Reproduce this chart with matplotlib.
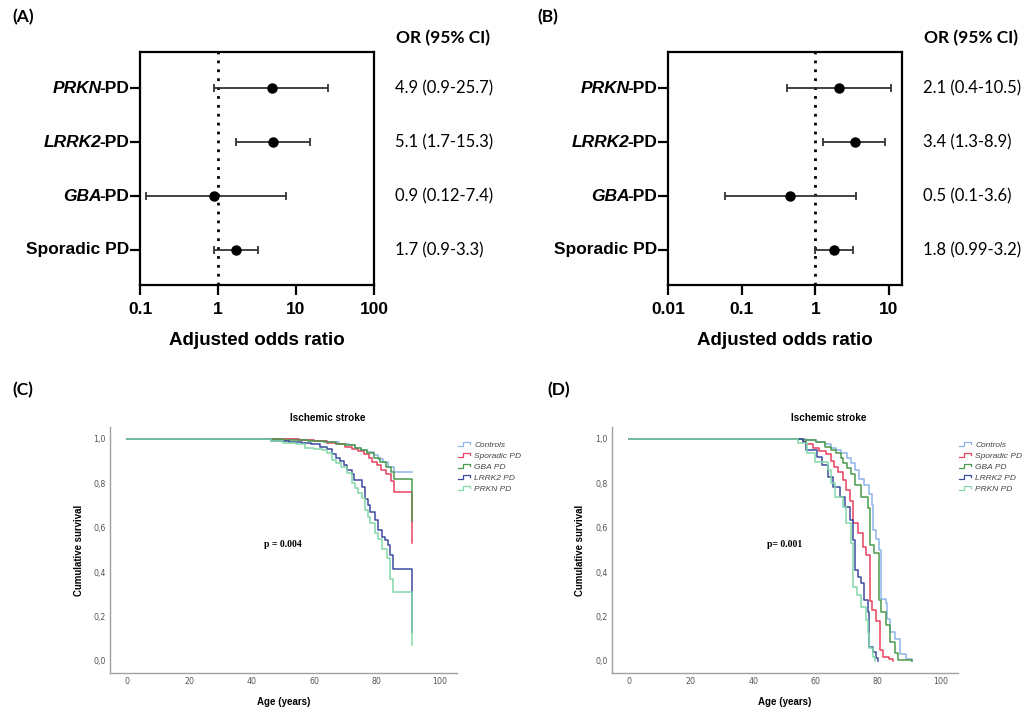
import numpy as np
import matplotlib
matplotlib.use("Agg")
import matplotlib.pyplot as plt
from matplotlib.lines import Line2D
from matplotlib.legend_handler import HandlerBase


# ---------------- forest plot data ----------------
genes = ["PRKN", "LRRK2", "GBA", None]
row_names = ["-PD", "-PD", "-PD", "Sporadic PD"]

or_a = [4.9, 5.1, 0.9, 1.7]
lo_a = [0.9, 1.7, 0.12, 0.9]
hi_a = [25.7, 15.3, 7.4, 3.3]
txt_a = ["4.9 (0.9-25.7)", "5.1 (1.7-15.3)", "0.9 (0.12-7.4)", "1.7 (0.9-3.3)"]

or_b = [2.1, 3.4, 0.45, 1.8]
lo_b = [0.41, 1.25, 0.06, 0.99]
hi_b = [10.5, 8.9, 3.6, 3.2]
txt_b = ["2.1 (0.4-10.5)", "3.4 (1.3-8.9)", "0.5 (0.1-3.6)", "1.8 (0.99-3.2)"]

xticks_a = [0.1, 1, 10, 100]
xticks_b = [0.01, 0.1, 1, 10]

# ---------------- survival data (age of event, survival after event) ----------------
groups = ["Controls", "Sporadic PD", "GBA PD", "LRRK2 PD", "PRKN PD"]
colors = ["#8db4e8", "#e8435f", "#4a9a4a", "#3d4b9c", "#82d9aa"]

c_ctrl_age = [45, 55, 60, 64, 68, 71, 73, 75, 77, 79, 80.5, 82, 83.5, 85.5, 91.2]
c_ctrl_surv = [0.998, 0.995, 0.99, 0.985, 0.978, 0.97, 0.96, 0.95, 0.94, 0.925, 0.91, 0.895, 0.875, 0.85, 0.85]
c_spor_age = [48, 55, 60, 64, 67, 70, 72, 74, 76, 77.5, 78.5, 80, 81.5, 83, 84.5, 85.5, 91.2]
c_spor_surv = [0.998, 0.993, 0.988, 0.982, 0.975, 0.965, 0.955, 0.945, 0.93, 0.915, 0.895, 0.88, 0.86, 0.84, 0.81, 0.76, 0.53]
c_gba_age = [33, 50, 58, 63, 67, 70, 73, 75, 77, 79, 81, 83, 84.5, 85.5, 91.2]
c_gba_surv = [0.997, 0.993, 0.99, 0.985, 0.978, 0.97, 0.96, 0.948, 0.935, 0.915, 0.895, 0.875, 0.85, 0.82, 0.63]
c_lrrk_age = [46, 52, 56, 59, 62, 64, 65.6, 67, 68.2, 69.5, 70.5, 72, 72.8, 75.2, 76.3, 77.3, 78, 79.5,
              80.5, 81.6, 82.5, 83.5, 84.3, 85.3, 91.2]
c_lrrk_surv = [0.99, 0.985, 0.98, 0.975, 0.965, 0.955, 0.93, 0.915, 0.9, 0.88, 0.86, 0.84, 0.815, 0.785,
               0.73, 0.7, 0.67, 0.635, 0.59, 0.56, 0.545, 0.52, 0.475, 0.415, 0.13]
c_prkn_age = [46, 50, 54, 57, 60, 62.4, 64, 65.6, 67, 68.7, 70.5, 72, 73, 74.1, 75.2, 76.3, 77.3, 78, 79.5,
              80.5, 81.6, 83.2, 84.3, 85.3, 91.2]
c_prkn_surv = [0.99, 0.982, 0.975, 0.96, 0.955, 0.948, 0.935, 0.905, 0.89, 0.875, 0.845, 0.8, 0.78, 0.755,
               0.735, 0.68, 0.65, 0.62, 0.575, 0.55, 0.505, 0.465, 0.37, 0.31, 0.07]

d_ctrl_age = [50, 57, 60, 63, 65, 66.5, 68, 70, 71.5, 72.5, 74, 75.5, 77, 78, 78.5, 79.5, 80.5, 81, 82.5,
              83, 84, 85.5, 87, 89, 91]
d_ctrl_surv = [0.998, 0.995, 0.985, 0.975, 0.96, 0.95, 0.935, 0.915, 0.89, 0.86, 0.82, 0.79, 0.75, 0.70,
               0.59, 0.55, 0.50, 0.28, 0.26, 0.19, 0.13, 0.10, 0.03, 0.01, 0.0]
d_spor_age = [56, 57, 59.2, 61, 63.5, 65.1, 66, 67.2, 68.8, 69.8, 70.9, 72, 73.6, 75.2, 76.3, 77.4, 78.2,
              79.3, 80.6, 81.6, 83.6, 85]
d_spor_surv = [0.985, 0.975, 0.958, 0.945, 0.93, 0.9, 0.875, 0.85, 0.815, 0.77, 0.72, 0.62, 0.575, 0.515,
               0.475, 0.27, 0.23, 0.18, 0.05, 0.02, 0.01, 0.0]
d_gba_age = [50, 56, 60, 63, 65, 66.5, 68, 68.8, 70, 71.5, 72.5, 74.6, 76.8, 77.4, 78.9, 80.3, 81.1, 82.5,
             84, 85.4, 86.5, 91]
d_gba_surv = [0.997, 0.993, 0.985, 0.965, 0.95, 0.935, 0.915, 0.89, 0.87, 0.84, 0.79, 0.74, 0.69, 0.52,
              0.485, 0.275, 0.222, 0.162, 0.087, 0.034, 0.005, 0.0]
d_lrrk_age = [56, 57, 60.3, 62, 64, 65.6, 67.8, 69.4, 70.9, 72, 72.5, 73.6, 74.7, 75.7, 76.8, 77.3, 78.3,
              79.3, 80]
d_lrrk_surv = [0.985, 0.95, 0.92, 0.88, 0.83, 0.785, 0.74, 0.695, 0.635, 0.545, 0.41, 0.38, 0.35, 0.275,
               0.22, 0.065, 0.04, 0.013, 0.0]
d_prkn_age = [54.3, 57.1, 59.7, 64, 65, 66.2, 68.8, 69.9, 71.5, 72.1, 73.3, 74.7, 76.2, 76.8, 77.3, 78.3, 79]
d_prkn_surv = [0.98, 0.935, 0.897, 0.86, 0.8, 0.74, 0.695, 0.62, 0.53, 0.335, 0.297, 0.245, 0.185, 0.125,
               0.057, 0.02, 0.0]

curves_c = [(c_ctrl_age, c_ctrl_surv), (c_spor_age, c_spor_surv), (c_gba_age, c_gba_surv),
            (c_lrrk_age, c_lrrk_surv), (c_prkn_age, c_prkn_surv)]
curves_d = [(d_ctrl_age, d_ctrl_surv), (d_spor_age, d_spor_surv), (d_gba_age, d_gba_surv),
            (d_lrrk_age, d_lrrk_surv), (d_prkn_age, d_prkn_surv)]

SANS = "Liberation Sans"
CAL = "Lato"


class StepHandler(HandlerBase):
    # legend symbol drawn as a small step, as in SPSS
    def create_artists(self, legend, orig_handle, xdescent, ydescent,
                       width, height, fontsize, trans):
        x0, y0 = -xdescent, -ydescent
        xs = [x0, x0 + 0.45 * width, x0 + 0.45 * width, x0 + width, x0 + width]
        ys = [y0 + 0.2 * height, y0 + 0.2 * height, y0 + 0.85 * height,
              y0 + 0.85 * height, y0 + 0.55 * height]
        line = Line2D(xs, ys, color=orig_handle.get_color(), lw=0.9)
        line.set_transform(trans)
        return [line]


def forest(ax, est, lo, hi, labels, xlim, xticks):
    ys = np.arange(len(est), 0, -1)
    est = np.asarray(est)
    err = [est - np.asarray(lo), np.asarray(hi) - est]
    ax.axvline(1, color="black", ls=(0, (1, 2.2)), lw=2, zorder=1)
    ax.errorbar(est, ys, xerr=err, fmt="o", color="black", ecolor="#333333",
                elinewidth=1.3, capsize=3, capthick=1.3, ms=6.5, zorder=3)
    ax.set_xscale("log")
    ax.set_xlim(*xlim)
    ax.set_ylim(0.35, 4.67)
    ax.set_xticks(xticks)
    ax.set_xticklabels([f"{t:g}" for t in xticks], fontfamily=SANS,
                       fontweight="bold", fontsize=12.5)
    ax.xaxis.set_minor_locator(matplotlib.ticker.NullLocator())
    ax.set_yticks(ys)
    ax.set_yticklabels([""] * len(ys))
    ax.tick_params(axis="both", width=1.6, length=7, direction="out")
    ax.tick_params(axis="x", pad=5)
    for s in ax.spines.values():
        s.set_linewidth(1.6)
    ax.set_xlabel("Adjusted odds ratio", fontfamily=SANS, fontweight="bold",
                  fontsize=13.5, labelpad=11)
    # row labels, gene names in italics
    for y, gene, name in zip(ys, genes, row_names):
        t = ax.annotate(name, xy=(0, y), xycoords=("axes fraction", "data"),
                        xytext=(-7.5, 0), textcoords="offset points", ha="right",
                        va="center", fontfamily=SANS, fontweight="bold", fontsize=12.5)
        if gene is not None:
            ax.annotate(gene, xy=(0, 0.5), xycoords=t, xytext=(1.5, 0),
                        textcoords="offset points", ha="right", va="center",
                        fontfamily=SANS, fontweight="bold", fontstyle="italic",
                        fontsize=12.5)
    # OR column
    for y, s in zip(ys, labels):
        ax.annotate(s, xy=(1.09, y), xycoords=("axes fraction", "data"),
                    ha="left", va="center", fontfamily=CAL, fontsize=12)
    ax.text(1.093, 1.06, "OR (95% CI)", transform=ax.transAxes, ha="left",
            va="center", fontfamily=CAL, fontweight="bold", fontsize=12.5)


def survival(ax, curves, ptext):
    handles = []
    for (age, surv), name, col in zip(curves, groups, colors):
        h, = ax.step(np.r_[0, age], np.r_[1.0, surv], where="post", color=col,
                     lw=1.1, label=name)
        handles.append(h)
    ax.set_xlim(-5.4, 105.7)
    ax.set_ylim(-0.054, 1.053)
    ax.set_xticks(np.arange(0, 101, 20))
    ax.set_yticks(np.arange(0, 1.01, 0.2))
    ax.set_yticklabels([f"{v:.1f}".replace(".", ",") for v in np.arange(0, 1.01, 0.2)])
    ax.tick_params(length=0, labelsize=5.7, labelcolor="#555555", pad=3)
    for s in ["top", "right"]:
        ax.spines[s].set_visible(False)
    for s in ["left", "bottom"]:
        ax.spines[s].set_color("#a0a0a0")
        ax.spines[s].set_linewidth(1.0)
    ax.set_ylabel("Cumulative survival", fontfamily=SANS, fontweight="bold",
                  fontsize=6.9, labelpad=7)
    ax.set_xlabel("Age (years)", fontfamily=SANS, fontweight="bold",
                  fontsize=7, labelpad=8)
    ax.set_title("Ischemic stroke", x=0.628, pad=4, fontfamily=SANS,
                 fontweight="bold", fontsize=7.2)
    ax.text(50, 0.525, ptext, ha="center", va="center", fontfamily="Liberation Serif",
            fontweight="bold", fontsize=7)
    leg = ax.legend(handles=handles, handler_map={Line2D: StepHandler()},
                    loc="upper left", bbox_to_anchor=(1.0, 0.945), frameon=False,
                    borderaxespad=0, borderpad=0.1, handlelength=1.5,
                    handletextpad=0.5, labelspacing=0.38,
                    prop={"family": SANS, "style": "italic", "size": 6.0})
    for t in leg.get_texts():
        t.set_color("#444444")


fig = plt.figure(figsize=(10.29, 7.09), dpi=100)

ax_a = fig.add_axes([0.1361, 0.598, 0.2274, 0.3287])
forest(ax_a, or_a, lo_a, hi_a, txt_a, (0.1, 100), xticks_a)
ax_b = fig.add_axes([0.6492, 0.598, 0.2274, 0.3287])
forest(ax_b, or_b, lo_b, hi_b, txt_b, (0.01, 15), xticks_b)

ax_c = fig.add_axes([0.1069, 0.0508, 0.3372, 0.347])
survival(ax_c, curves_c, "p = 0.004")
ax_d = fig.add_axes([0.5945, 0.0508, 0.3365, 0.347])
survival(ax_d, curves_d, "p= 0.001")

for x, y, s in [(12, 17, "(A)"), (537, 17, "(B)"), (12, 390, "(C)"), (547, 390, "(D)")]:
    fig.text(x / 1029, 1 - y / 709, s, ha="left", va="center", fontfamily=CAL,
             fontweight="bold", fontsize=12.5)

fig.savefig("out.png", dpi=100)
